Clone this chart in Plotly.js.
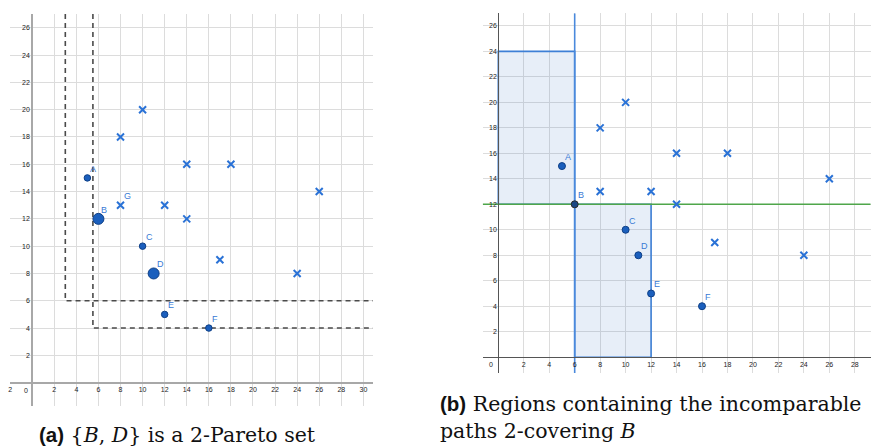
<!DOCTYPE html>
<html>
<head>
<meta charset="utf-8">
<script src="https://cdn.plot.ly/plotly-3.0.1.min.js"></script>
<style>html,body{margin:0;padding:0;background:#fff;}#chart{width:879px;height:446px;}</style>
</head>
<body>
<div id="chart"></div>
<script>
// ---- data ----
const pathLabels = ['A', 'B', 'C', 'D', 'E', 'F'];
const pathX = [5, 6, 10, 11, 12, 16];
const pathY = [15, 12, 10, 8, 5, 4];
const paretoSet = ['B', 'D'];           // highlighted in panel (a)
const otherX = [8, 10, 8, 12, 14, 14, 18, 26, 17, 24];
const otherY = [18, 20, 13, 13, 16, 12, 16, 14, 9, 8];
const gLabelIndex = 2;                   // cross labelled G (8,13)
const cornerX = [3, 5.5];                // dashed dominance corners, panel (a)
const cornerY = [6, 4];
const region1X = [0, 6], region1Y = [12, 24];
const region2X = [6, 12], region2Y = [0, 12];
const xTickValsA = [-2, 2, 4, 6, 8, 10, 12, 14, 16, 18, 20, 22, 24, 26, 28, 30];
const xTickTextA = ['2', '2', '4', '6', '8', '10', '12', '14', '16', '18', '20', '22', '24', '26', '28', '30'];
const yTickVals = [2, 4, 6, 8, 10, 12, 14, 16, 18, 20, 22, 24, 26];
const xTickValsB = [2, 4, 6, 8, 10, 12, 14, 16, 18, 20, 22, 24, 26, 28];
const captionA = '<b><span style="font-family:Liberation Sans">(a)</span></b> {<i>B</i>, <i>D</i>} is a 2-Pareto set';
const captionB1 = '<b><span style="font-family:Liberation Sans">(b)</span></b> Regions containing the incomparable';
const captionB2 = 'paths 2-covering <i>B</i>';

// ---- geometry ----
const W = 879, H = 446;
const rA = {x: [-2.01, 30.87], y: [-1.71, 27.01]};
const rB = {x: [-1.225, 29.25], y: [-1.24, 26.99]};
const domA = {x: [10 / W, 373 / W], y: [1 - 406 / H, 1 - 14 / H]};
const domB = {x: [482.7 / W, 870.7 / W], y: [1 - 373 / H, 1 - 13.3 / H]};
function px(r, d, v) { return d[0] + (v - r[0]) / (r[1] - r[0]) * (d[1] - d[0]); }

const blueDot = '#1b5fbd', dotLine = '#0e3f86', crossCol = '#2a72d6', labCol = '#3a7ad5';
const traces = [];

// panel (a) dashed lines
for (let i = 0; i < cornerX.length; i++) {
  traces.push({x: [cornerX[i], cornerX[i], rA.x[1]], y: [rA.y[1], cornerY[i], cornerY[i]],
    mode: 'lines', line: {color: '#4a4a4a', width: 1.6, dash: '5px,4px'}, xaxis: 'x', yaxis: 'y', hoverinfo: 'skip'});
}
// panel (a) crosses
traces.push({x: otherX, y: otherY, mode: 'markers', xaxis: 'x', yaxis: 'y',
  marker: {symbol: 'x-thin', size: 7, opacity: 1, line: {color: crossCol, width: 2}}});
// panel (a) dots
traces.push({x: pathX, y: pathY, mode: 'markers', xaxis: 'x', yaxis: 'y',
  marker: {color: blueDot, opacity: 1, size: pathLabels.map(l => paretoSet.includes(l) ? 11 : 6.5), line: {color: dotLine, width: 1}}});

// panel (b) regions
function rect(rx, ry) {
  return {x: [rx[0], rx[1], rx[1], rx[0], rx[0]], y: [ry[0], ry[0], ry[1], ry[1], ry[0]],
    mode: 'lines', fill: 'toself', fillcolor: 'rgba(70,120,200,0.13)', line: {color: '#3d7fd6', width: 1.6},
    xaxis: 'x2', yaxis: 'y2', hoverinfo: 'skip'};
}
traces.push(rect(region1X, region1Y));
traces.push(rect(region2X, region2Y));
const bi = pathLabels.indexOf('B');
traces.push({x: [pathX[bi], pathX[bi]], y: [rB.y[0], rB.y[1]], mode: 'lines', line: {color: '#4a89dc', width: 1.6},
  xaxis: 'x2', yaxis: 'y2', hoverinfo: 'skip'});
traces.push({x: [rB.x[0], rB.x[1]], y: [pathY[bi], pathY[bi]], mode: 'lines', line: {color: '#4fa64a', width: 1.6},
  xaxis: 'x2', yaxis: 'y2', hoverinfo: 'skip'});
traces.push({x: otherX, y: otherY, mode: 'markers', xaxis: 'x2', yaxis: 'y2',
  marker: {symbol: 'x-thin', size: 7, opacity: 1, line: {color: crossCol, width: 2}}});
traces.push({x: pathX, y: pathY, mode: 'markers', xaxis: 'x2', yaxis: 'y2',
  marker: {color: pathLabels.map(l => l === 'B' ? '#1a4784' : blueDot), size: 7, opacity: 1,
    line: {color: pathLabels.map(l => l === 'B' ? '#2a2a2a' : dotLine), width: 1}}});

// annotations
const ann = [];
function lab(t, x, y, xa, ya) {
  ann.push({text: t, x: x, y: y, xref: xa, yref: ya, showarrow: false, xanchor: 'left', yanchor: 'bottom',
    xshift: 1, yshift: 2, font: {family: 'Liberation Sans', size: 9, color: labCol}});
}
pathLabels.forEach((l, i) => { lab(l, pathX[i], pathY[i], 'x', 'y'); lab(l, pathX[i], pathY[i], 'x2', 'y2'); });
lab('G', otherX[gLabelIndex], otherY[gLabelIndex], 'x', 'y');
ann.push({text: '0', x: 0, y: 0, xref: 'x', yref: 'y', showarrow: false, xanchor: 'center', yanchor: 'top',
  xshift: -6, yshift: -2, font: {family: 'Liberation Sans', size: 7, color: '#222'}});
ann.push({text: '0', x: 0, y: 0, xref: 'x2', yref: 'y2', showarrow: false, xanchor: 'center', yanchor: 'top',
  xshift: -7, yshift: -2, font: {family: 'Liberation Sans', size: 7, color: '#222'}});
ann.push({text: captionA, xref: 'paper', yref: 'paper', x: 177 / W, y: 1 - 435 / H, xanchor: 'center', yanchor: 'middle',
  showarrow: false, font: {family: 'DejaVu Serif', size: 20.5, color: '#111'}});
ann.push({text: captionB1, xref: 'paper', yref: 'paper', x: 438 / W, y: 1 - 404 / H, xanchor: 'left', yanchor: 'middle',
  showarrow: false, font: {family: 'DejaVu Serif', size: 20.5, color: '#111'}});
ann.push({text: captionB2, xref: 'paper', yref: 'paper', x: 438 / W, y: 1 - 431 / H, xanchor: 'left', yanchor: 'middle',
  showarrow: false, font: {family: 'DejaVu Serif', size: 20.5, color: '#111'}});

const tickFont = {family: 'Liberation Sans', size: 7, color: '#222'};
function ax(extra) {
  return Object.assign({showgrid: true, gridcolor: '#dcdcdc', gridwidth: 1, zeroline: false, ticks: '',
    tickfont: tickFont, showline: true, fixedrange: true, anchor: 'free', tickmode: 'array'}, extra);
}
const layout = {
  width: W, height: H, margin: {l: 0, r: 0, t: 0, b: 0}, showlegend: false,
  paper_bgcolor: '#fff', plot_bgcolor: '#fff', hovermode: false,
  xaxis: ax({domain: domA.x, range: rA.x, tickvals: xTickValsA, ticktext: xTickTextA,
    position: px(rA.y, domA.y, 0), linecolor: '#a8a8a8', linewidth: 2}),
  yaxis: ax({domain: domA.y, range: rA.y, tickvals: yTickVals,
    position: px(rA.x, domA.x, 0), linecolor: '#a8a8a8', linewidth: 2}),
  xaxis2: ax({domain: domB.x, range: rB.x, tickvals: xTickValsB,
    position: px(rB.y, domB.y, 0), linecolor: '#555', linewidth: 1}),
  yaxis2: ax({domain: domB.y, range: rB.y, tickvals: yTickVals,
    position: px(rB.x, domB.x, 0), linecolor: '#555', linewidth: 1}),
  annotations: ann
};
Plotly.newPlot('chart', traces, layout, {staticPlot: true, displayModeBar: false});
</script>
</body>
</html>
